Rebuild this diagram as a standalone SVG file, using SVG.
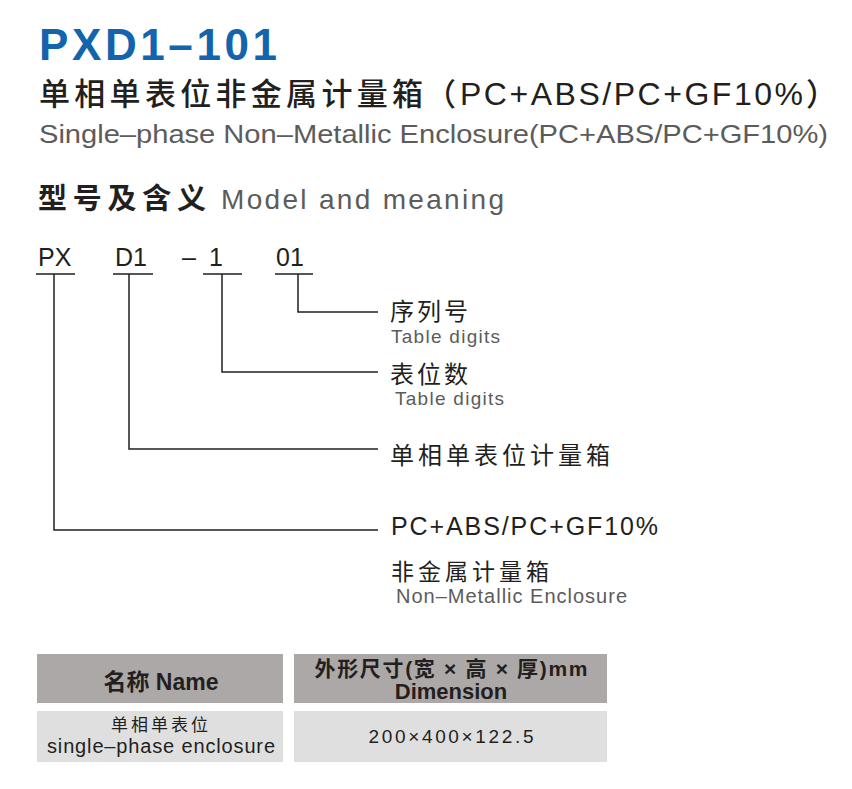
<svg xmlns="http://www.w3.org/2000/svg" width="852" height="789" viewBox="0 0 852 789">
<style>
.t{font-family:"Liberation Sans","Noto Sans CJK SC",sans-serif;fill:#231f20}
.g{fill:#5c5c5c}
.cn{font-family:"Noto Sans CJK SC","Liberation Sans",sans-serif;fill:#231f20}
.ln{stroke:#231f20;stroke-width:1.5;fill:none}
.hd{fill:#aca8a7}
.bd{fill:#dfdfdf}
</style>
<rect width="852" height="789" fill="#ffffff"/>
<g id="title">
<text x="39" y="60" class="t" style="font-size:44px;font-weight:bold;fill:#1464ad" textLength="238" lengthAdjust="spacing">PXD1–101</text>
<text x="39" y="105" class="cn" style="font-size:31px;font-weight:500" textLength="384" lengthAdjust="spacing">单相单表位非金属计量箱</text>
<text x="425" y="105" class="cn" style="font-size:31px;font-weight:500">（</text>
<text x="460" y="105" class="t" style="font-size:32px" textLength="343" lengthAdjust="spacing">PC+ABS/PC+GF10%</text>
<text x="806" y="105" class="cn" style="font-size:31px;font-weight:500">）</text>
<text x="39" y="143" class="t g" style="font-size:26px" textLength="789" lengthAdjust="spacingAndGlyphs">Single–phase Non–Metallic Enclosure(PC+ABS/PC+GF10%)</text>
</g>
<g id="heading">
<text x="38" y="209" class="cn" style="font-size:29px;font-weight:bold" textLength="168" lengthAdjust="spacing">型号及含义</text>
<text x="221" y="209" class="t g" style="font-size:28px" textLength="283" lengthAdjust="spacing">Model and meaning</text>
</g>
<g id="code">
<text x="38" y="266" class="t" style="font-size:25px">PX</text>
<text x="115" y="266" class="t" style="font-size:25px">D1</text>
<text x="182" y="266" class="t" style="font-size:25px">–</text>
<text x="209" y="266" class="t" style="font-size:25px">1</text>
<text x="276" y="266" class="t" style="font-size:25px">01</text>
</g>
<g id="connectors">
<path class="ln" d="M36 274H75M113 274H153M203 274H242M275 274H313"/>
<path class="ln" d="M298 274V312H378"/>
<path class="ln" d="M222 274V372H378"/>
<path class="ln" d="M129 274V449H378"/>
<path class="ln" d="M54 274V530H378"/>
</g>
<g id="n-serial">
<text x="390" y="320" class="cn" style="font-size:24px;letter-spacing:3px">序列号</text>
<text x="391" y="343" class="t g" style="font-size:19px" textLength="109" lengthAdjust="spacing">Table digits</text>
</g>
<g id="n-meters">
<text x="390" y="383" class="cn" style="font-size:24px;letter-spacing:3px">表位数</text>
<text x="395" y="405" class="t g" style="font-size:19px" textLength="109" lengthAdjust="spacing">Table digits</text>
</g>
<g id="n-type">
<text x="390" y="464" class="cn" style="font-size:24px;letter-spacing:4px">单相单表位计量箱</text>
</g>
<g id="n-material">
<text x="391" y="535" class="t" style="font-size:25px" textLength="267" lengthAdjust="spacing">PC+ABS/PC+GF10%</text>
<text x="391" y="580" class="cn" style="font-size:23px;letter-spacing:4px">非金属计量箱</text>
<text x="396" y="603" class="t g" style="font-size:20px" textLength="231" lengthAdjust="spacing">Non–Metallic Enclosure</text>
</g>
<g id="table">
<rect x="37" y="654" width="246" height="49" class="hd"/>
<rect x="294" y="654" width="313" height="49" class="hd"/>
<rect x="37" y="711" width="246" height="51" class="bd"/>
<rect x="294" y="711" width="313" height="51" class="bd"/>
<text x="161" y="690" class="t" style="font-size:23px;font-weight:bold" text-anchor="middle">名称 Name</text>
<text x="451" y="676" class="t" style="font-size:21px;font-weight:bold" text-anchor="middle" textLength="273" lengthAdjust="spacing">外形尺寸(宽 × 高 × 厚)mm</text>
<text x="451" y="699" class="t" style="font-size:22px;font-weight:bold" text-anchor="middle">Dimension</text>
<text x="161" y="731" class="cn" style="font-size:17px;letter-spacing:3px" text-anchor="middle">单相单表位</text>
<text x="161" y="753" class="t" style="font-size:20px" text-anchor="middle" textLength="228" lengthAdjust="spacing">single–phase enclosure</text>
<text x="451" y="743" class="t" style="font-size:19px" text-anchor="middle" textLength="165" lengthAdjust="spacing">200×400×122.5</text>
</g>
</svg>
